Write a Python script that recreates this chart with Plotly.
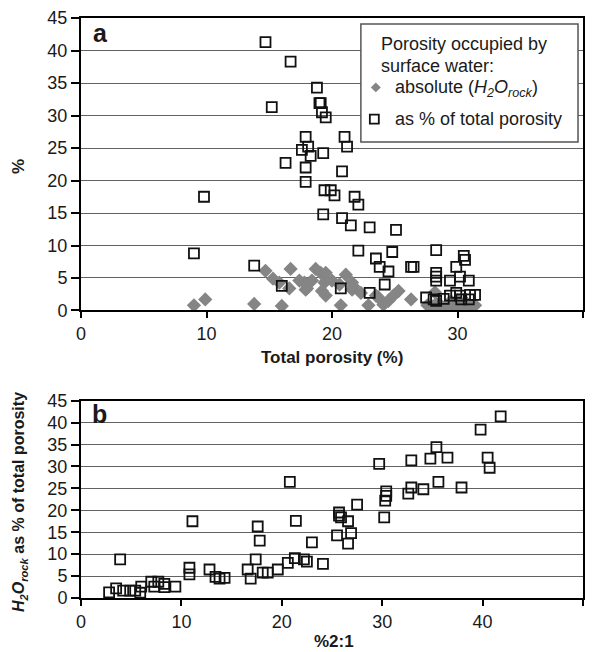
import plotly.graph_objects as go

# Panel a: surface-water porosity vs total porosity
total_por_abs = [9.0, 9.9, 13.8, 14.7, 15.3, 15.8, 16.0, 16.6, 16.7, 17.4, 17.8, 18.0, 17.9,
                 18.4, 18.7, 19.1, 19.5, 19.4, 19.2, 19.5, 20.0, 20.6, 21.1, 21.6, 21.6, 21.7,
                 22.3, 20.7, 22.9, 23.5, 23.7, 24.1, 24.5, 24.9, 25.3, 26.3, 27.6, 28.0, 28.3,
                 28.3, 28.6, 29.0, 29.3, 29.6, 29.9, 30.2, 30.5, 30.8, 31.1, 31.4, 28.2, 29.5,
                 30.0]
h2o_rock_abs = [0.8, 1.7, 1.0, 6.1, 4.9, 4.3, 0.7, 3.4, 6.4, 4.6, 4.3, 3.4, 3.2,
                4.6, 6.4, 5.8, 5.8, 4.3, 3.0, 2.3, 4.6, 4.0, 5.5, 4.3, 3.2, 3.7,
                2.7, 0.8, 0.8, 2.3, 2.0, 0.9, 1.5, 2.3, 3.0, 1.7, 0.8, 0.6, 1.0,
                0.5, 0.9, 0.6, 1.1, 0.7, 0.5, 0.9, 0.6, 1.0, 0.7, 0.8, 2.8, 1.4,
                1.6]

total_por_pct = [14.7, 16.7, 15.2, 18.8, 19.0, 19.1, 19.2, 19.5, 17.9, 21.0, 21.2, 17.6, 18.1,
                 18.3, 19.3, 16.3, 17.9, 20.8, 17.9, 19.4, 19.9, 20.2, 21.8, 22.1, 9.8, 19.3,
                 20.8, 21.5, 23.0, 25.1, 9.0, 22.1, 23.5, 24.8, 23.8, 24.5, 13.8, 16.0, 20.7,
                 23.0, 24.2, 28.3, 30.5, 30.6, 26.3, 26.5, 29.9, 28.3, 28.3, 28.3, 29.4, 30.2,
                 30.9, 27.5, 28.3, 28.9, 29.4, 29.9, 30.3, 31.0, 31.4, 30.9, 30.2, 28.1]
h2o_rock_pct = [41.3, 38.3, 31.3, 34.3, 31.9, 31.9, 30.5, 29.7, 26.7, 26.7, 25.2, 24.7, 25.2,
                23.8, 24.2, 22.7, 22.0, 21.4, 19.8, 18.5, 18.5, 17.7, 17.5, 16.3, 17.5, 14.8,
                14.2, 13.1, 12.8, 12.4, 8.8, 9.2, 8.0, 9.0, 6.7, 6.0, 6.9, 3.8, 3.4,
                2.7, 4.0, 9.3, 8.4, 7.8, 6.7, 6.7, 6.7, 5.8, 5.2, 4.6, 4.6, 5.2,
                4.6, 2.0, 1.5, 1.8, 2.3, 2.7, 1.7, 2.4, 2.4, 1.7, 2.3, 1.7]

# Panel b: surface water (% of total porosity) vs %2:1 clay
clay_21 = [2.8, 3.5, 4.2, 4.9, 5.4, 5.9, 6.0, 7.0, 7.3, 7.7, 8.3, 8.3, 9.4, 3.9, 10.8,
           10.8, 11.1, 12.8, 13.4, 13.8, 14.3, 16.6, 16.9, 17.4, 17.6, 17.8, 18.1, 18.6,
           19.6, 20.6, 20.8, 21.3, 22.2, 22.5, 21.4, 23.0, 24.1,
           25.5, 25.7, 25.7, 25.9, 26.6, 26.6, 26.9, 27.5, 29.7, 30.2, 30.3, 30.4, 30.4,
           32.6, 32.9, 32.9, 34.1, 34.8, 35.4, 35.6, 36.5, 37.9, 39.8, 40.5, 40.7, 41.8]
h2o_pct_b = [1.3, 2.2, 1.7, 1.7, 1.7, 1.2, 2.6, 3.7, 2.6, 3.7, 3.2, 2.5, 2.6, 8.8, 5.4,
             6.9, 17.5, 6.5, 4.8, 4.4, 4.6, 6.5, 4.4, 8.8, 16.3, 13.1, 5.8, 5.8,
             6.5, 8.0, 26.5, 9.1, 8.8, 8.3, 17.6, 12.7, 7.8,
             14.3, 19.5, 18.8, 18.4, 17.5, 12.4, 14.8, 21.3, 30.6, 18.4, 22.2, 23.3, 24.3,
             23.8, 25.2, 31.4, 24.8, 31.8, 34.4, 26.5, 32.0, 25.2, 38.4, 32.0, 29.7, 41.4]

y_ticks = list(range(0, 46, 5))
x_ticks_a = [0, 10, 20, 30, 40]
x_ticks_b = [0, 10, 20, 30, 40, 50]

legend_title = ["Porosity occupied by", "surface water:"]
legend_abs = "absolute (<i>H<sub>2</sub>O<sub>rock</sub></i>)"
legend_pct = "as % of total porosity"

FONT = "Arial, Liberation Sans, sans-serif"
TXT = "#1a1a1a"
GRID = "#626262"
DIAMOND = "#858585"

fig = go.Figure()

fig.add_trace(go.Scatter(
    x=total_por_abs, y=h2o_rock_abs, mode="markers", name=legend_abs,
    marker=dict(symbol="diamond", size=11, color=DIAMOND, line=dict(width=0)),
    xaxis="x", yaxis="y"))
fig.add_trace(go.Scatter(
    x=total_por_pct, y=h2o_rock_pct, mode="markers", name=legend_pct,
    marker=dict(symbol="square-open", size=10, color="#111111", line=dict(width=1.8)),
    xaxis="x", yaxis="y"))
fig.add_trace(go.Scatter(
    x=clay_21, y=h2o_pct_b, mode="markers", name=legend_pct,
    marker=dict(symbol="square-open", size=10, color="#111111", line=dict(width=1.8)),
    xaxis="x2", yaxis="y2"))

axis_common = dict(showline=True, linecolor="#000", linewidth=2, mirror=True,
                   ticks="outside", tickcolor="#000", tickwidth=1.5,
                   tickfont=dict(family=FONT, size=18, color=TXT), zeroline=False)

fig.update_layout(
    width=593, height=652,
    margin=dict(l=81, r=8, t=13, b=54),
    paper_bgcolor="white", plot_bgcolor="white",
    font=dict(family=FONT, color=TXT),
    showlegend=False,
    xaxis=dict(domain=[0, 1], range=[0, 40], tickvals=x_ticks_a, showgrid=False,
               ticklen=6, anchor="y", **axis_common),
    yaxis=dict(domain=[0.4957, 1.0], range=[0, 45], tickvals=y_ticks, showgrid=True,
               gridcolor=GRID, gridwidth=1.2, ticklen=8, anchor="x", **axis_common),
    xaxis2=dict(domain=[0, 1], range=[0, 50], tickvals=x_ticks_b, showgrid=False,
                ticklen=6, anchor="y2", **axis_common),
    yaxis2=dict(domain=[0, 0.3402], range=[0, 45], tickvals=y_ticks, showgrid=True,
                gridcolor=GRID, gridwidth=1.2, ticklen=8, anchor="x2", **axis_common),
)

# Key box in the upper right of panel a (pixel positions converted to paper units)
PW, PH, L, B = 504.0, 585.0, 81.0, 598.0


def px(xp):
    return (xp - L) / PW


def py(yp):
    return (B - yp) / PH


shapes = [
    dict(type="rect", xref="paper", yref="paper", x0=px(362), x1=px(580),
         y0=py(138), y1=py(19), fillcolor="white", line=dict(color="#555", width=1.5),
         layer="above"),
    # diamond key symbol
    dict(type="path", xref="paper", yref="paper",
         path=f"M {px(377)},{py(78)} L {px(382)},{py(83)} L {px(377)},{py(88)} "
              f"L {px(372)},{py(83)} Z",
         fillcolor=DIAMOND, line=dict(width=0), layer="above"),
    # open-square key symbol
    dict(type="rect", xref="paper", yref="paper", x0=px(371), x1=px(380),
         y0=py(119.5), y1=py(110.5), fillcolor="rgba(0,0,0,0)",
         line=dict(color="#111", width=1.8), layer="above"),
]

annotations = [
    dict(text=legend_title[0], x=px(380), y=py(39), xanchor="left", font=dict(size=18)),
    dict(text=legend_title[1], x=px(380), y=py(61), xanchor="left", font=dict(size=18)),
    dict(text=legend_abs, x=px(394), y=py(84), xanchor="left", font=dict(size=18)),
    dict(text=legend_pct, x=px(394), y=py(115), xanchor="left", font=dict(size=18)),
    dict(text="<b>a</b>", x=0.0397, y=0.9744, font=dict(size=25)),
    dict(text="<b>b</b>", x=0.0377, y=0.318, font=dict(size=25)),
    dict(text="<b>%</b>", x=-0.125, y=0.7436, textangle=-90, font=dict(size=17)),
    dict(text="<b>Total porosity (%)</b>", x=0.5, y=0.4154, font=dict(size=17)),
    dict(text="<b>%2:1</b>", x=0.504, y=-0.0752, font=dict(size=17)),
    dict(text="<b><i>H<sub>2</sub>O<sub>rock</sub></i> as % of total porosity</b>",
         x=-0.121, y=0.1658, textangle=-90, font=dict(size=16)),
]
for a in annotations:
    a.setdefault("xanchor", "center")
    a.update(xref="paper", yref="paper", showarrow=False, yanchor="middle")
    a["font"].update(family=FONT, color=TXT)

fig.update_layout(shapes=shapes, annotations=annotations)

fig.write_html("out.html")
